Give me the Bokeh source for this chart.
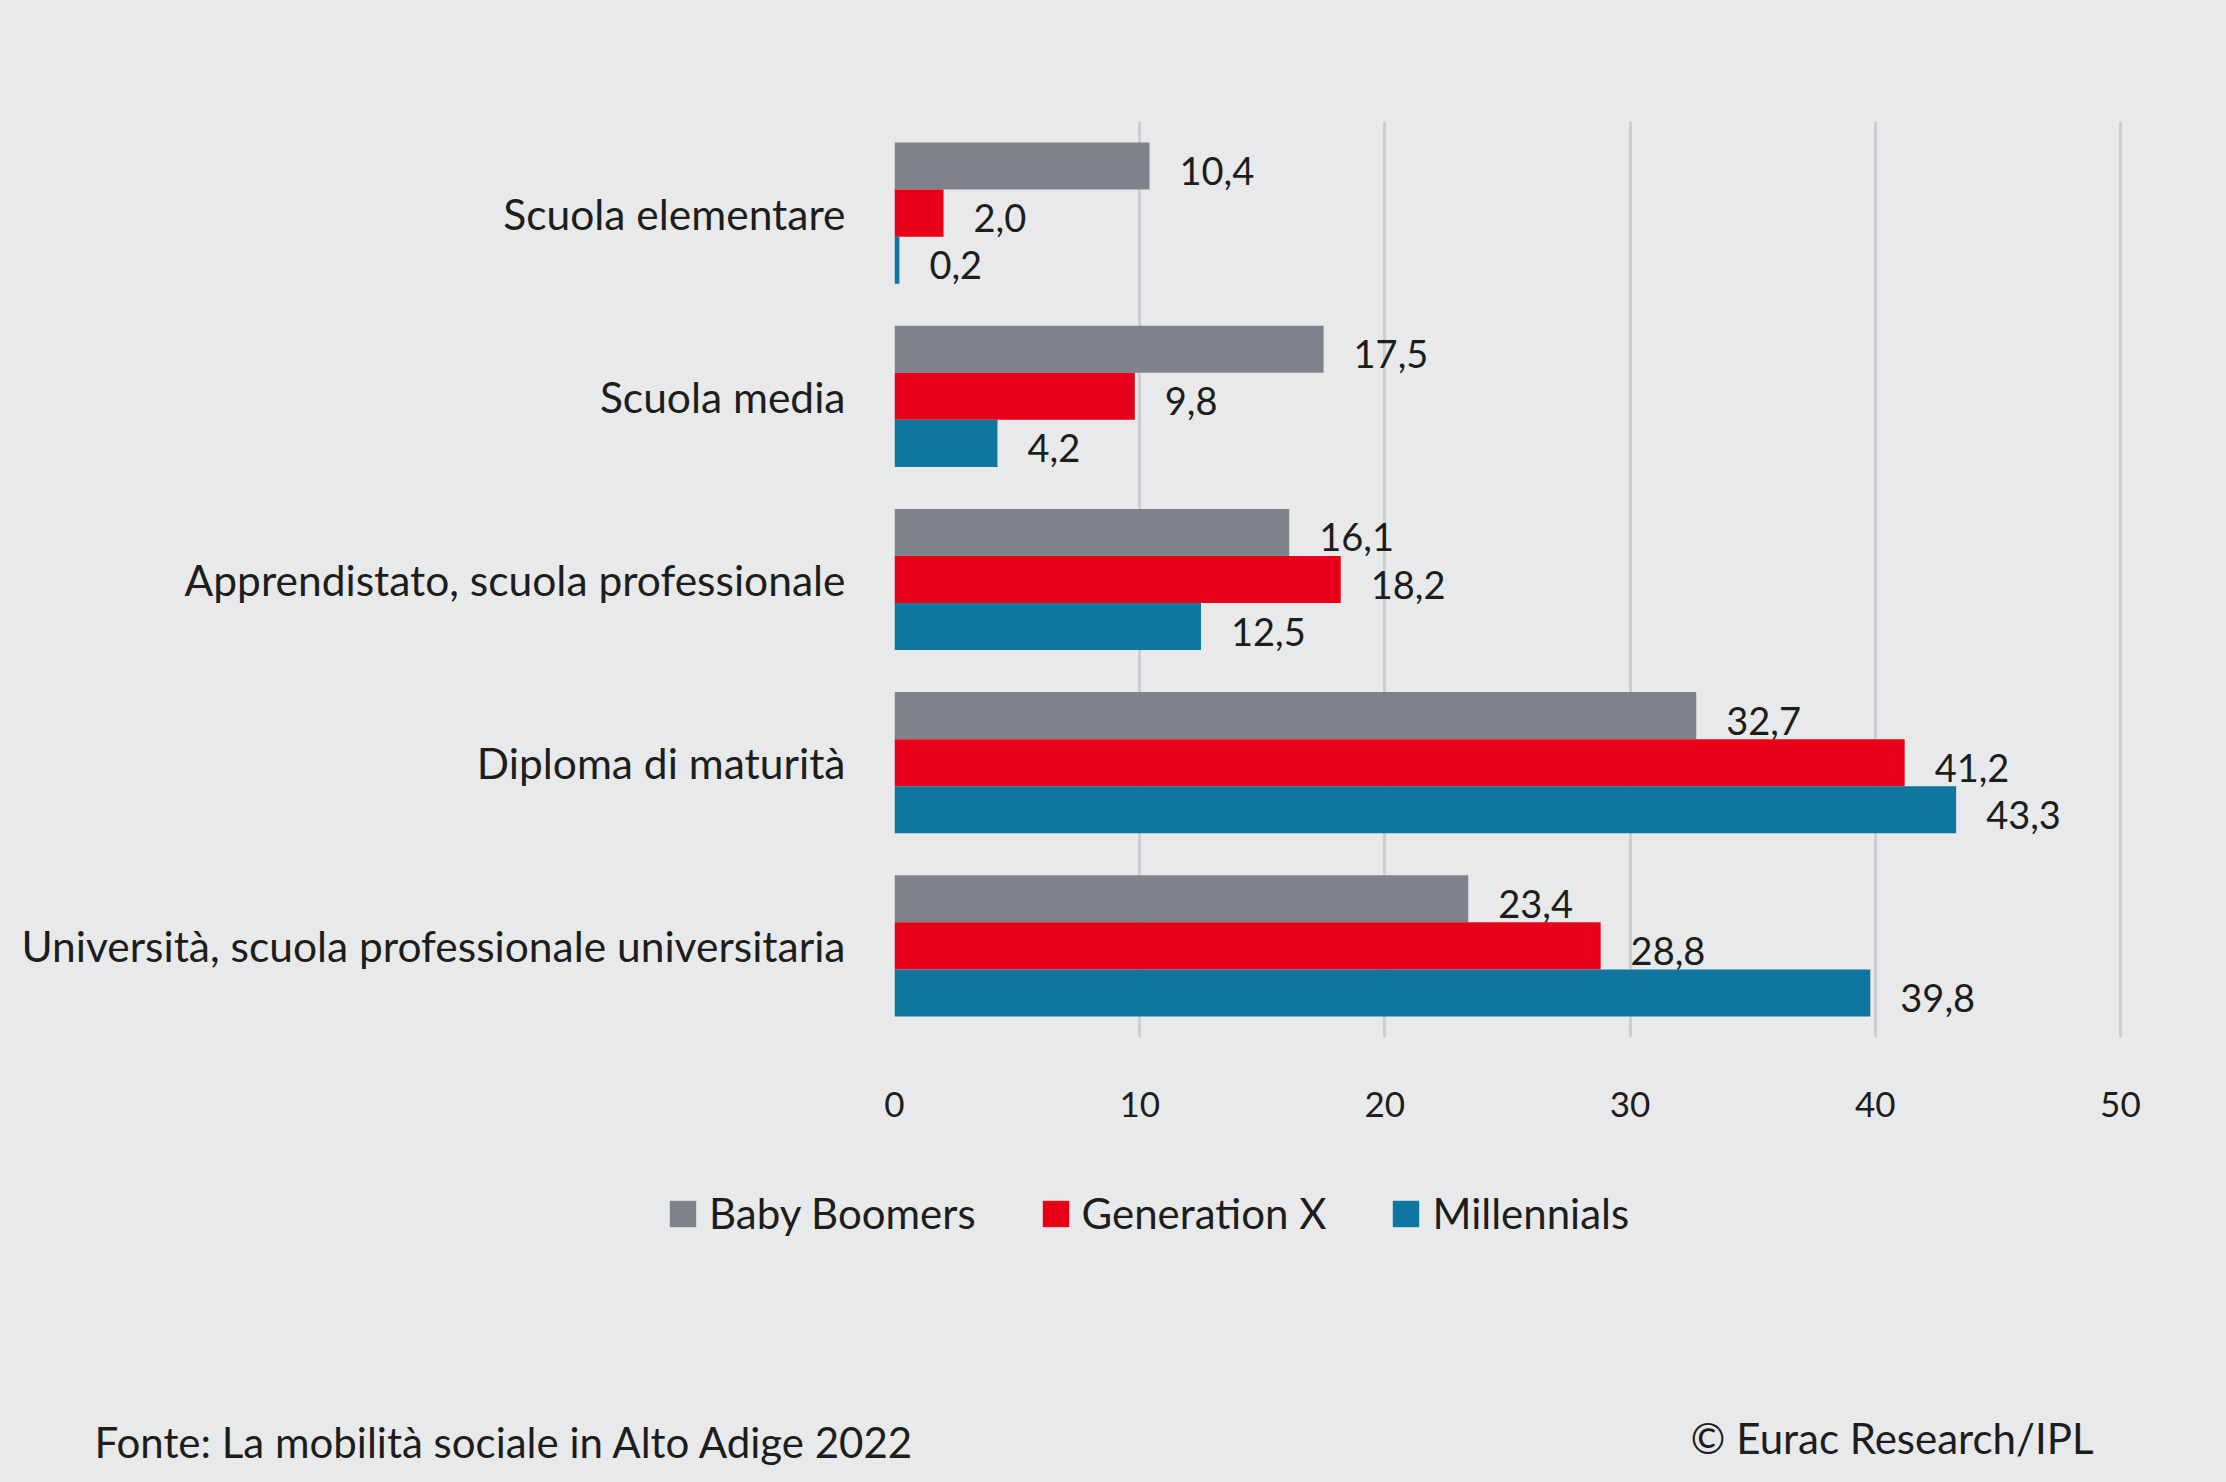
from bokeh.plotting import figure
from bokeh.layouts import column
from bokeh.models import (FactorRange, Range1d, ColumnDataSource, FixedTicker, Legend,
                          LegendItem, Label, GlobalInlineStyleSheet)
from bokeh.transform import dodge
from bokeh.core.properties import value
from bokeh.embed import file_html
from bokeh.resources import INLINE

# ---- data ----
categories = ["Scuola elementare", "Scuola media", "Apprendistato, scuola professionale",
              "Diploma di maturità", "Università, scuola professionale universitaria"]
series_names = ["Baby Boomers", "Generation X", "Millennials"]
baby_boomers = [10.4, 17.5, 16.1, 32.7, 23.4]
generation_x = [2.0, 9.8, 18.2, 41.2, 28.8]
millennials = [0.2, 4.2, 12.5, 43.3, 39.8]
x_ticks = [0, 10, 20, 30, 40, 50]
source_text = "Fonte: La mobilità sociale in Alto Adige 2022"
credit_text = "© Eurac Research/IPL"

colors = ["#7e838b", "#e60018", "#0f76a0"]
BG = "#e8e9eb"
TXT = "#1d1d1b"
FONT = "Lato"

def fmt(v):
    return f"{v:.1f}".replace(".", ",")

W = 2226
H1 = 1150
H2 = 1482 - H1

p = figure(width=W, height=H1, output_backend="svg", toolbar_location=None,
           y_range=FactorRange(factors=list(reversed(categories)), range_padding=0),
           x_range=Range1d(0, 50.33),
           min_border_left=894, min_border_right=W - 2128, min_border_top=121,
           min_border_bottom=H1 - 1037)
p.frame_align = False
p.stylesheets = [GlobalInlineStyleSheet(css="html, body { background-color: #e8e9eb; margin: 0; padding: 0; }")]
p.background_fill_color = BG
p.border_fill_color = BG
p.outline_line_color = None

data = dict(cat=categories, bb=baby_boomers, gx=generation_x, ml=millennials,
            bb_l=[fmt(v) for v in baby_boomers], gx_l=[fmt(v) for v in generation_x],
            ml_l=[fmt(v) for v in millennials])
src = ColumnDataSource(data)

bh = 0.257
for key, off, col in [("bb", bh, colors[0]), ("gx", 0.0, colors[1]), ("ml", -bh, colors[2])]:
    p.hbar(y=dodge("cat", off, range=p.y_range), left=0, right=key, height=bh,
           source=src, fill_color=col, line_color=None)
    p.text(x=key, y=dodge("cat", off, range=p.y_range), text=key + "_l", source=src,
           x_offset=30, y_offset=5, text_baseline="middle", text_align="left",
           text_font=value(FONT), text_font_size="38px", text_color=TXT)

# grid
p.ygrid.grid_line_color = None
p.xgrid.ticker = FixedTicker(ticks=x_ticks)
p.xgrid.grid_line_color = "#cdced2"
p.xgrid.grid_line_width = 3

# axes
p.xaxis.ticker = FixedTicker(ticks=x_ticks)
p.xaxis.axis_line_color = None
p.xaxis.major_tick_line_color = None
p.xaxis.minor_tick_line_color = None
p.xaxis.major_tick_out = 0
p.xaxis.major_tick_in = 0
p.xaxis.major_label_standoff = 54
p.xaxis.major_label_text_font = FONT
p.xaxis.major_label_text_font_size = "35px"
p.xaxis.major_label_text_color = TXT

p.yaxis.axis_line_color = None
p.yaxis.major_tick_line_color = None
p.yaxis.minor_tick_line_color = None
p.yaxis.major_tick_out = 0
p.yaxis.major_tick_in = 0
p.yaxis.major_label_standoff = 49
p.yaxis.major_label_text_font = FONT
p.yaxis.major_label_text_font_size = "42.5px"
p.yaxis.major_label_text_color = TXT

# ---- bottom panel: legend and footer ----
p2 = figure(width=W, height=H2, output_backend="svg", toolbar_location=None,
            x_axis_type=None, y_axis_type=None,
            x_range=Range1d(0, W), y_range=Range1d(0, H2),
            min_border=0, min_border_left=0, min_border_right=0,
            min_border_top=0, min_border_bottom=0)
p2.frame_align = False
p2.background_fill_color = BG
p2.border_fill_color = BG
p2.outline_line_color = None

# legend swatches: one off-view bar per series (only its legend swatch is visible)
items = []
for n, col in zip(series_names, colors):
    r = p2.hbar(y=[-10 * H2], right=[1], left=0, height=1, fill_color=col, line_color=None)
    items.append(LegendItem(label=n, renderers=[r]))

legend = Legend(items=items, orientation="horizontal", location=(666, 244),
                glyph_width=33, glyph_height=33, label_standoff=10, spacing=63,
                label_height=26, padding=0, margin=0, border_line_color=None,
                background_fill_alpha=0,
                label_text_font=FONT, label_text_font_size="42px", label_text_color=TXT,
                label_text_baseline="middle")
p2.add_layout(legend, "center")

p2.add_layout(Label(x=94, y=41, x_units="screen", y_units="screen", text=source_text,
                    text_font=FONT, text_font_size="42px", text_color=TXT,
                    text_baseline="middle", text_align="left"))
p2.add_layout(Label(x=2093, y=45, x_units="screen", y_units="screen", text=credit_text,
                    text_font=FONT, text_font_size="42px", text_color=TXT,
                    text_baseline="middle", text_align="right"))

layout = column(p, p2, spacing=0)
open("out.html", "w").write(file_html(layout, INLINE))
